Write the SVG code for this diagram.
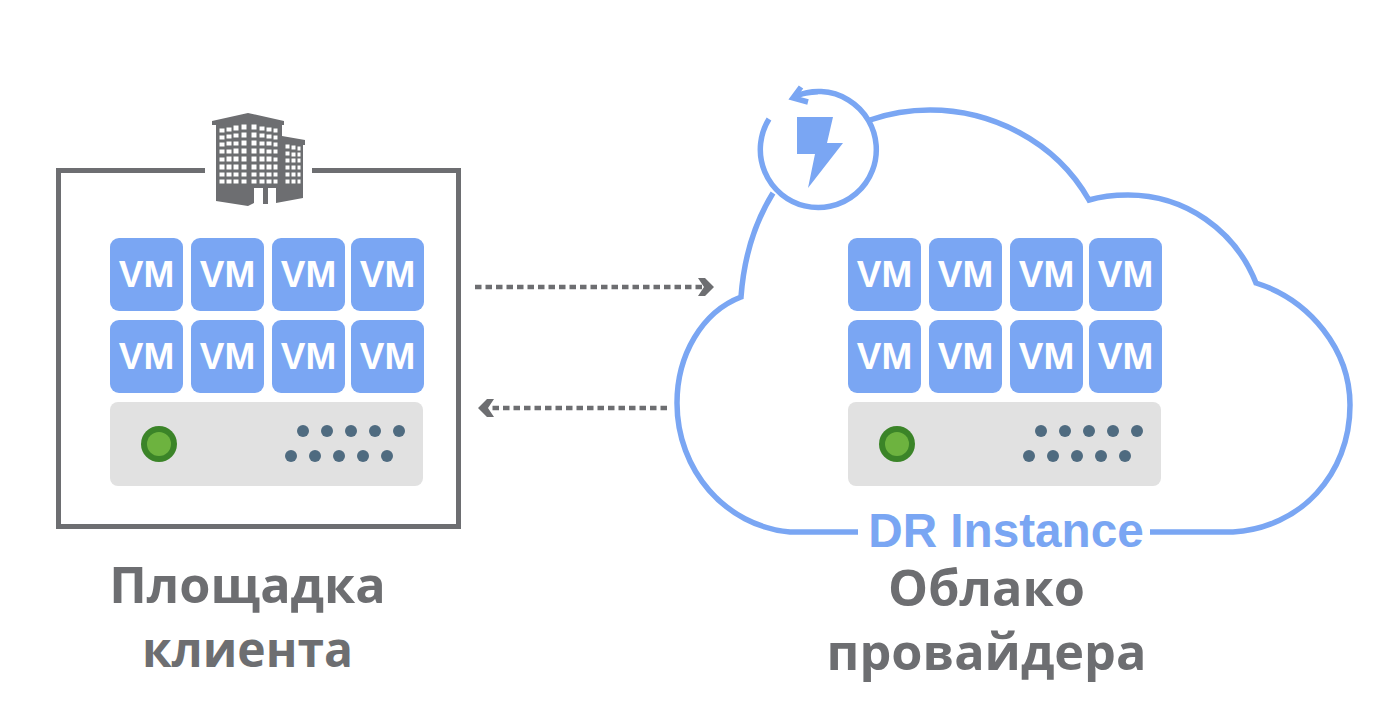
<svg xmlns="http://www.w3.org/2000/svg" xmlns:xlink="http://www.w3.org/1999/xlink" width="1376" height="710" viewBox="0 0 1376 710">
<style>
.vm{fill:#7aa6f3}
.vmt{fill:#fff;font:700 37px "Liberation Sans",Arial,sans-serif;text-anchor:middle}
.srv{fill:#e1e1e1}
.dot{fill:#4f6b80}
.ledo{fill:#3b8428}
.ledi{fill:#6db33f}
.cl{fill:none;stroke:#7aa6f3;stroke-width:5.5;stroke-linecap:butt}
.lb{fill:#6d6e71;font:700 50.400px "Open Sans","Noto Sans",sans-serif;text-anchor:middle}
.dr{fill:#7aa6f3;font:700 47.700px "Liberation Sans",Arial,sans-serif;text-anchor:middle}
.fr{fill:none;stroke:#6d6e71;stroke-width:5}
.cn{fill:none;stroke:#6d6e71;stroke-width:4.500;stroke-dasharray:6.500 4;marker-end:url(#chev)}
.bl{fill:#6d6e71}
.wn{fill:#fff;stroke:#6d6e71;stroke-width:1}
</style>
<defs>
<marker id="chev" markerUnits="userSpaceOnUse" markerWidth="18" markerHeight="20" refX="4" refY="9.500" orient="auto">
<path d="M0 .5H7L16 9.500L7 18.500H0L6 9.500Z" fill="#6d6e71"/>
</marker>
<g id="tile">
<rect width="73" height="73" rx="9" class="vm"/>
<text x="36.500" y="49" class="vmt">VM</text>
</g>
<g id="rack">
<use xlink:href="#tile" href="#tile" x="0" y="0"/>
<use xlink:href="#tile" href="#tile" x="81" y="0"/>
<use xlink:href="#tile" href="#tile" x="162" y="0"/>
<use xlink:href="#tile" href="#tile" x="241" y="0"/>
<use xlink:href="#tile" href="#tile" x="0" y="82"/>
<use xlink:href="#tile" href="#tile" x="81" y="82"/>
<use xlink:href="#tile" href="#tile" x="162" y="82"/>
<use xlink:href="#tile" href="#tile" x="241" y="82"/>
<rect x="0" y="164" width="313" height="84" rx="8" class="srv"/>
<circle cx="49" cy="206" r="18" class="ledo"/>
<circle cx="49" cy="206" r="12" class="ledi"/>
<g class="dot">
<circle cx="193" cy="193" r="6"/><circle cx="217" cy="193" r="6"/><circle cx="241" cy="193" r="6"/><circle cx="265" cy="193" r="6"/><circle cx="289" cy="193" r="6"/>
<circle cx="181" cy="218" r="6"/><circle cx="205" cy="218" r="6"/><circle cx="229" cy="218" r="6"/><circle cx="253" cy="218" r="6"/><circle cx="277" cy="218" r="6"/>
</g>
</g>
</defs>
<rect width="1376" height="710" fill="#fff"/>

<g id="client-site">
<path class="fr" d="M205 170.500H58.500V526.500H458.500V170.500H312"/>
<g id="building">
<path class="bl" d="M212 121L248 113L284 121V125L282 125V136L305 140V145L303 145V198L276 203V188H268V204H263V188H254V203L248 206L216 201V125L212 125Z"/>
<g class="wn">
<path d="M219 128h6v5h-6zM226 127h6v5h-6zM233 125h6v6h-6zM241 124h6v6h-6zM251 124h6v6h-6zM259 126h6v5h-6zM266 127h6v5h-6zM273 128h5v5h-5z"/>
<path d="M219 135h6v5h-6zM226 134h6v5h-6zM233 133h6v5h-6zM241 132h6v6h-6zM251 132h6v6h-6zM259 133h6v5h-6zM266 134h6v5h-6zM273 135h5v5h-5z"/>
<path d="M219 142h6v5h-6zM226 141h6v5h-6zM233 141h6v5h-6zM241 140h6v6h-6zM251 140h6v6h-6zM259 141h6v5h-6zM266 141h6v5h-6zM273 142h5v5h-5z"/>
<path d="M219 149h6v5h-6zM226 149h6v5h-6zM233 148h6v6h-6zM241 148h6v6h-6zM251 148h6v6h-6zM259 148h6v6h-6zM266 149h6v5h-6zM273 149h5v5h-5z"/>
<path d="M219 157h6v5h-6zM226 156h6v6h-6zM233 156h6v6h-6zM241 156h6v6h-6zM251 156h6v6h-6zM259 156h6v6h-6zM266 156h6v6h-6zM273 157h5v5h-5z"/>
<path d="M219 164h6v6h-6zM226 164h6v6h-6zM233 164h6v6h-6zM241 164h6v6h-6zM251 164h6v6h-6zM259 164h6v6h-6zM266 164h6v6h-6zM273 164h5v6h-5z"/>
<path d="M219 172h6v5h-6zM226 172h6v5h-6zM233 172h6v5h-6zM241 172h6v5h-6zM251 172h6v5h-6zM259 172h6v5h-6zM266 172h6v5h-6zM273 172h5v5h-5z"/>
<path d="M219 179h6v5h-6zM226 179h6v5h-6zM233 179h6v5h-6zM241 179h6v5h-6zM251 179h6v5h-6zM259 179h6v5h-6zM266 179h6v5h-6zM273 179h5v5h-5z"/>
<path d="M285 144h5v5h-5zM291 145h5v5h-5zM297 146h4v5h-4zM285 151h5v5h-5zM291 152h5v5h-5zM297 152h4v5h-4zM285 158h5v5h-5zM291 158h5v5h-5zM297 158h4v5h-4zM285 165h5v5h-5zM291 165h5v5h-5zM297 165h4v5h-4zM285 172h5v5h-5zM291 172h5v5h-5zM297 172h4v5h-4zM285 179h5v5h-5zM291 179h5v5h-5zM297 179h4v5h-4z"/>
</g>
</g>
<use id="client-rack" xlink:href="#rack" href="#rack" x="110" y="238"/>
<text class="lb" x="247.500" y="603">Площадка</text>
<text class="lb" x="247.500" y="667" style="font-size:48px">клиента</text>
</g>

<g id="provider-cloud">
<path class="cl" d="M773 193C755 222 744 256 741 297C702 312 677 355 677 403C677 470 725 526 790 532H858M1150 532H1233C1300 528 1350 475 1350 405C1350 350 1310 300 1256 283C1235 230 1185 195 1128 195C1115 195 1102 196 1089 200C1055 140 990 110 930 110C910 110 890 113 870 120"/>
<use id="provider-rack" xlink:href="#rack" href="#rack" x="848" y="238"/>
<text class="dr" x="1006" y="547">DR Instance</text>
<text class="lb" x="986.500" y="606">Облако</text>
<text class="lb" x="986.500" y="670">провайдера</text>
</g>

<g id="dr-icon">
<path class="cl" d="M769 119A58 58 0 1 0 796 96Q805 92 818 92"/>
<path class="cl" d="M801 87L793 98L808 102"/>
<path d="M797 117H833L827 143H843L808 188L815 154H797Z" fill="#7aa6f3"/>
</g>

<g id="connectors">
<path class="cn" d="M475 287H702"/>
<path class="cn" d="M667 408H490"/>
</g>
</svg>
